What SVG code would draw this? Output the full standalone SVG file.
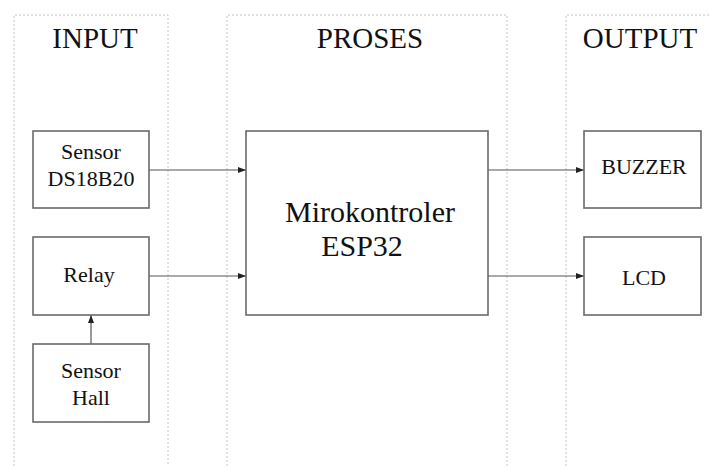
<svg xmlns="http://www.w3.org/2000/svg" width="710" height="466" viewBox="0 0 710 466">
<style>
.panel{fill:none;stroke:#c4c4c4;stroke-width:1;stroke-dasharray:2,2}
.box{fill:#fff;stroke:#6a6a6a;stroke-width:1.6}
text{font-family:'Liberation Serif','DejaVu Serif',serif;fill:#111;text-anchor:middle}
.h{font-size:29px}
.n{font-size:22px}
.big{font-size:30px}
.c{fill:none;stroke:#555;stroke-width:1.2}
</style>
<defs>
<marker id="ah" viewBox="0 0 8 6" refX="8" refY="3" markerWidth="8" markerHeight="6" markerUnits="userSpaceOnUse" orient="auto">
<path d="M0,0 L8,3 L0,6 Z" fill="#222"/>
</marker>
</defs>
<rect width="710" height="466" fill="#fff"/>
<g id="panels">
<path class="panel" d="M14,470 V15 H168 V470"/>
<path class="panel" d="M227,470 V15 H507 V470"/>
<path class="panel" d="M566,470 V15 H712"/>
<text class="h" x="95" y="48">INPUT</text>
<text class="h" x="370" y="48">PROSES</text>
<text class="h" x="640" y="48">OUTPUT</text>
</g>
<g id="connectors">
<line class="c" x1="149" y1="170" x2="246" y2="170" marker-end="url(#ah)"/>
<line class="c" x1="149" y1="276" x2="246" y2="276" marker-end="url(#ah)"/>
<line class="c" x1="91" y1="344" x2="91" y2="315" marker-end="url(#ah)"/>
<line class="c" x1="488" y1="170" x2="584" y2="170" marker-end="url(#ah)"/>
<line class="c" x1="488" y1="276" x2="584" y2="276" marker-end="url(#ah)"/>
</g>
<g id="sensor-ds18b20">
<rect class="box" x="33" y="131" width="116" height="77"/>
<text class="n" x="91" y="159">Sensor</text>
<text class="n" x="91" y="186">DS18B20</text>
</g>
<g id="relay">
<rect class="box" x="33" y="237" width="116" height="78"/>
<text class="n" x="89" y="282">Relay</text>
</g>
<g id="sensor-hall">
<rect class="box" x="33" y="344" width="116" height="78"/>
<text class="n" x="91" y="378">Sensor</text>
<text class="n" x="91" y="405">Hall</text>
</g>
<g id="mikrokontroler">
<rect class="box" x="246" y="131" width="242" height="184"/>
<text class="big" x="370" y="222">Mirokontroler</text>
<text class="big" x="362" y="256">ESP32</text>
</g>
<g id="buzzer">
<rect class="box" x="584" y="131" width="117" height="77"/>
<text class="n" x="644" y="174">BUZZER</text>
</g>
<g id="lcd">
<rect class="box" x="584" y="237" width="117" height="78"/>
<text class="n" x="644" y="285">LCD</text>
</g>
</svg>
